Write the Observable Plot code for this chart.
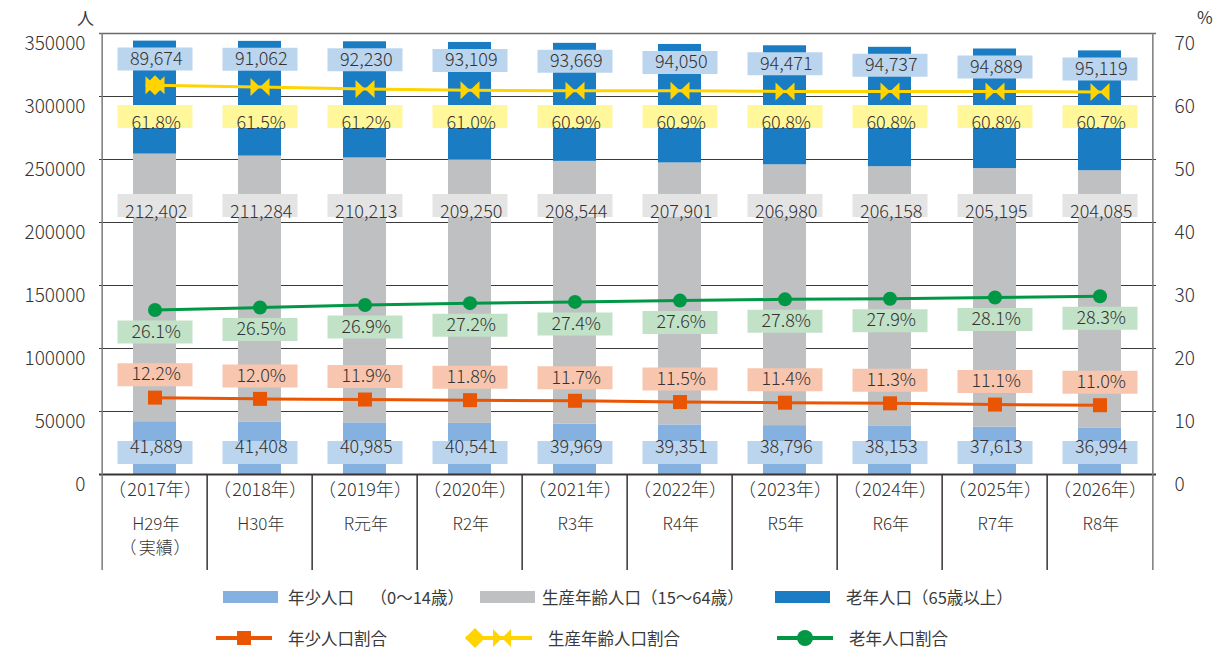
<!DOCTYPE html>
<html><head><meta charset="utf-8">
<script src="https://cdn.jsdelivr.net/npm/d3@7"></script>
<script src="https://cdn.jsdelivr.net/npm/@observablehq/plot@0.6"></script>
<style>
body{margin:0;background:#fff;font-family:"Noto Sans CJK JP","Noto Sans",sans-serif;color:#3a3a3a;text-spacing-trim:space-all;}
svg text{text-spacing-trim:space-all;}
#wrap{position:relative;width:1220px;height:649px;overflow:hidden;}
#chart{position:absolute;left:0;top:0;}
.lg{position:absolute;font-size:16.5px;line-height:20px;white-space:nowrap;color:#3a3a3a;}
.unit{position:absolute;font-size:17px;line-height:20px;color:#3a3a3a;}
svg.sw{position:absolute;overflow:visible;}
</style></head><body><div id="wrap"><div id="chart"></div></div>
<script>
// ---- data ----
const years = ["（2017年）","（2018年）","（2019年）","（2020年）","（2021年）","（2022年）","（2023年）","（2024年）","（2025年）","（2026年）"];
const eras = ["H29年","H30年","R元年","R2年","R3年","R4年","R5年","R6年","R7年","R8年"];
const notes = ["（実績）","","","","","","","","",""];
const young = [41889,41408,40985,40541,39969,39351,38796,38153,37613,36994];
const working = [212402,211284,210213,209250,208544,207901,206980,206158,205195,204085];
const elderly = [89674,91062,92230,93109,93669,94050,94471,94737,94889,95119];
const youngPct = [12.2,12.0,11.9,11.8,11.7,11.5,11.4,11.3,11.1,11.0];
const workingPct = [61.8,61.5,61.2,61.0,60.9,60.9,60.8,60.8,60.8,60.7];
const elderlyPct = [26.1,26.5,26.9,27.2,27.4,27.6,27.8,27.9,28.1,28.3];
const leftTicks = [0,50000,100000,150000,200000,250000,300000,350000];
const rightTicks = [0,10,20,30,40,50,60,70];
const groups = ["年少人口","生産年齢人口","老年人口"];

// ---- layout / style ----
const W = 1220, H = 580, mT = 33, mB = 106, mL = 99, mR = 64;
const step = (W - mL - mR) / years.length;
const ratio = 350000 / 70; // right-axis % -> left-axis people
const C = {young:"#84b1df", working:"#bfc0c2", elderly:"#1a7dc3",
  lbBlue:"#bcd5ee", lbGray:"#e4e4e4", lbYel:"#fff799", lbGrn:"#c2e2c8", lbOrg:"#f8c6ae",
  org:"#ea5504", yel:"#ffd400", grn:"#009844", txt:"#333333"};

// strip the full-width brackets so they can be drawn at full width
const inner = s => s.replace(/^（|）$/g, "");
const rows = years.map((y,i)=>({year:y, yearIn:inner(y), era:eras[i], note:notes[i], noteIn:inner(notes[i]),
  young:young[i], working:working[i], elderly:elderly[i],
  total:young[i]+working[i]+elderly[i], yp:youngPct[i], wp:workingPct[i], ep:elderlyPct[i]}));
const noteRows = rows.filter(r=>r.note);
const stackRows = rows.flatMap(r=>[
  {year:r.year, group:groups[0], value:r.young},
  {year:r.year, group:groups[1], value:r.working},
  {year:r.year, group:groups[2], value:r.elderly}]);

const box = {draw(ctx){ ctx.rect(-37.5,-11.5,75,23); }};
const square = {draw(ctx){ ctx.rect(-7,-7,14,14); }};
const bowtie = {draw(ctx){ const w=9.5,h=9; ctx.moveTo(-w,-h); ctx.lineTo(0,0); ctx.lineTo(-w,h); ctx.closePath(); ctx.moveTo(w,-h); ctx.lineTo(0,0); ctx.lineTo(w,h); ctx.closePath(); }};
const diamond = {draw(ctx){ const s=10; ctx.moveTo(0,-s); ctx.lineTo(s,0); ctx.lineTo(0,s); ctx.lineTo(-s,0); ctx.closePath(); }};
const fmt = d3.format(",");
const pct = v => v.toFixed(1) + "%";
const labelFont = {fontSize:18, fill:C.txt, letterSpacing:"2.5px", dx:1.25, fontWeight:300};
const catFont = {fontSize:18, fill:C.txt, letterSpacing:"1.2px", dx:0.6, fontWeight:300};
const eraFont = {fontSize:17, fill:C.txt, letterSpacing:"1.6px", dx:0.8, fontWeight:300};
const parFont = {fontSize:18, fill:C.txt, fontWeight:300};

const chart = Plot.plot({
  width: W, height: H, marginTop: mT, marginBottom: mB, marginLeft: mL, marginRight: mR,
  style: {fontFamily:'"Noto Sans CJK JP","Noto Sans",sans-serif', fontSize:"18px", color:C.txt, background:"#fff"},
  x: {type:"band", domain: years, paddingInner: 0.59, paddingOuter: 0.295, axis: null},
  y: {domain:[0,350000], axis: null},
  color: {domain: groups, range:[C.young, C.working, C.elderly]},
  marks: [
    Plot.ruleY(leftTicks.filter(d=>d>0 && d<350000), {stroke:"#3a3a3a", strokeWidth:1}),
    Plot.ruleY([350000], {stroke:"#6a6a6a", strokeWidth:1.5}),
    Plot.barY(stackRows, {x:"year", y:"value", fill:"group"}),
    Plot.ruleY([0], {stroke:"#3a3333", strokeWidth:2}),
    // table / frame verticals
    Plot.ruleX(years.slice(1), {x:d=>d, dx:-step/2, insetTop: H-mT-mB, insetBottom:-(mB-10), stroke:"#3a3333", strokeWidth:1.5}),
    Plot.ruleX([years[0]], {x:d=>d, dx:-step/2, insetBottom:-(mB-10), stroke:"#7a7a7a", strokeWidth:1.5}),
    Plot.ruleX([years[years.length-1]], {x:d=>d, dx:step/2, insetBottom:-(mB-10), stroke:"#7a7a7a", strokeWidth:1.5}),
    // axes
    Plot.axisY(leftTicks, {anchor:"left", tickSize:0, tickPadding:14, dy:10, fontSize:19, letterSpacing:"3.1px", fontWeight:300, label:null, fill:C.txt, tickFormat:d=>String(d)}),
    Plot.axisY(leftTicks, {anchor:"right", tickSize:0, tickPadding:18, dy:10, fontSize:19, letterSpacing:"3px", fontWeight:300, label:null, fill:C.txt, tickFormat:d=>String(d/ratio)}),
    // category table text
    Plot.text(rows, {x:"year", text:"yearIn", frameAnchor:"bottom", dy:21, ...catFont}),
    Plot.text(rows, {x:"year", text:()=>"（", frameAnchor:"bottom", dy:21, dx:-38, ...parFont}),
    Plot.text(rows, {x:"year", text:()=>"）", frameAnchor:"bottom", dy:21, dx:38, ...parFont}),
    Plot.text(rows, {x:"year", text:"era", frameAnchor:"bottom", dy:55, ...eraFont}),
    Plot.text(noteRows, {x:"year", text:"noteIn", frameAnchor:"bottom", dy:79, ...eraFont}),
    Plot.text(noteRows, {x:"year", text:()=>"（", frameAnchor:"bottom", dy:79, dx:-27, ...parFont, fontSize:17}),
    Plot.text(noteRows, {x:"year", text:()=>"）", frameAnchor:"bottom", dy:79, dx:27, ...parFont, fontSize:17}),
    // ratio lines
    Plot.line(rows, {x:"year", y:d=>d.wp*ratio, stroke:C.yel, strokeWidth:3}),
    Plot.line(rows, {x:"year", y:d=>d.ep*ratio, stroke:C.grn, strokeWidth:3}),
    Plot.line(rows, {x:"year", y:d=>d.yp*ratio, stroke:C.org, strokeWidth:3}),
    Plot.dot(rows.slice(0,1), {x:"year", y:d=>d.wp*ratio, symbol:diamond, fill:C.yel, stroke:"none"}),
    Plot.dot(rows, {x:"year", y:d=>d.wp*ratio, symbol:bowtie, fill:C.yel, stroke:"none"}),
    Plot.dot(rows, {x:"year", y:d=>d.ep*ratio, r:7, symbol:"circle", fill:C.grn, stroke:"none"}),
    Plot.dot(rows, {x:"year", y:d=>d.yp*ratio, symbol:square, fill:C.org, stroke:"none"}),
    // label boxes
    Plot.dot(rows, {x:"year", frameAnchor:"bottom", dy:-22, symbol:box, fill:C.lbBlue, stroke:"none"}),
    Plot.dot(rows, {x:"year", frameAnchor:"top", dy:172, symbol:box, fill:C.lbGray, stroke:"none"}),
    Plot.dot(rows, {x:"year", y:"total", dy:18, symbol:box, fill:C.lbBlue, stroke:"none"}),
    Plot.dot(rows, {x:"year", frameAnchor:"top", dy:83, symbol:box, fill:C.lbYel, stroke:"none"}),
    Plot.dot(rows, {x:"year", y:d=>d.ep*ratio, dy:22, symbol:box, fill:C.lbGrn, stroke:"none"}),
    Plot.dot(rows, {x:"year", y:d=>d.yp*ratio, dy:-23, symbol:box, fill:C.lbOrg, stroke:"none"}),
    // label texts
    Plot.text(rows, {x:"year", text:d=>fmt(d.young), frameAnchor:"bottom", dy:-22, ...labelFont}),
    Plot.text(rows, {x:"year", text:d=>fmt(d.working), frameAnchor:"top", dy:172, ...labelFont}),
    Plot.text(rows, {x:"year", y:"total", text:d=>fmt(d.elderly), dy:18, ...labelFont}),
    Plot.text(rows, {x:"year", text:d=>pct(d.wp), frameAnchor:"top", dy:83, ...labelFont}),
    Plot.text(rows, {x:"year", y:d=>d.ep*ratio, text:d=>pct(d.ep), dy:22, ...labelFont}),
    Plot.text(rows, {x:"year", y:d=>d.yp*ratio, text:d=>pct(d.yp), dy:-23, ...labelFont})
  ]
});
const wrap = document.getElementById("wrap");
document.getElementById("chart").appendChild(chart);

// units
function addDiv(cls, text, left, top){ const d=document.createElement("div"); d.className=cls; d.textContent=text; d.style.left=left+"px"; d.style.top=top+"px"; wrap.appendChild(d); return d; }
addDiv("unit","人",77,8);
addDiv("unit","%",1197,7);

// legend
function sw(left, top, w, h, inner){
  const s=document.createElementNS("http://www.w3.org/2000/svg","svg");
  s.setAttribute("class","sw"); s.setAttribute("width",w); s.setAttribute("height",h);
  s.style.left=left+"px"; s.style.top=top+"px"; s.innerHTML=inner; wrap.appendChild(s);
}
// row 1
sw(223,591,55,12,`<rect width="55" height="12" fill="${C.young}"/>`);
addDiv("lg","年少人口　（0～14歳）",288,587);
sw(480,591,55,12,`<rect width="55" height="12" fill="${C.working}"/>`);
addDiv("lg","生産年齢人口（15～64歳）",542,587);
sw(775,591,55,12,`<rect width="55" height="12" fill="${C.elderly}"/>`);
addDiv("lg","老年人口（65歳以上）",846,587);
// row 2
sw(216,628,56,20,`<line x1="0" y1="10" x2="56" y2="10" stroke="${C.org}" stroke-width="4"/><rect x="21" y="3" width="14" height="14" fill="${C.org}"/>`);
addDiv("lg","年少人口割合",288,628);
sw(466,628,66,20,`<line x1="0" y1="10" x2="66" y2="10" stroke="${C.yel}" stroke-width="4"/><path d="M9,0 L19,10 L9,20 L-1,10Z" fill="${C.yel}"/><path d="M27,1 L36,10 L27,19Z M45,1 L36,10 L45,19Z" fill="${C.yel}"/>`);
addDiv("lg","生産年齢人口割合",548,628);
sw(777,628,56,20,`<line x1="0" y1="10" x2="56" y2="10" stroke="${C.grn}" stroke-width="4"/><circle cx="28" cy="10" r="8" fill="${C.grn}"/>`);
addDiv("lg","老年人口割合",849,628);
</script></body></html>
